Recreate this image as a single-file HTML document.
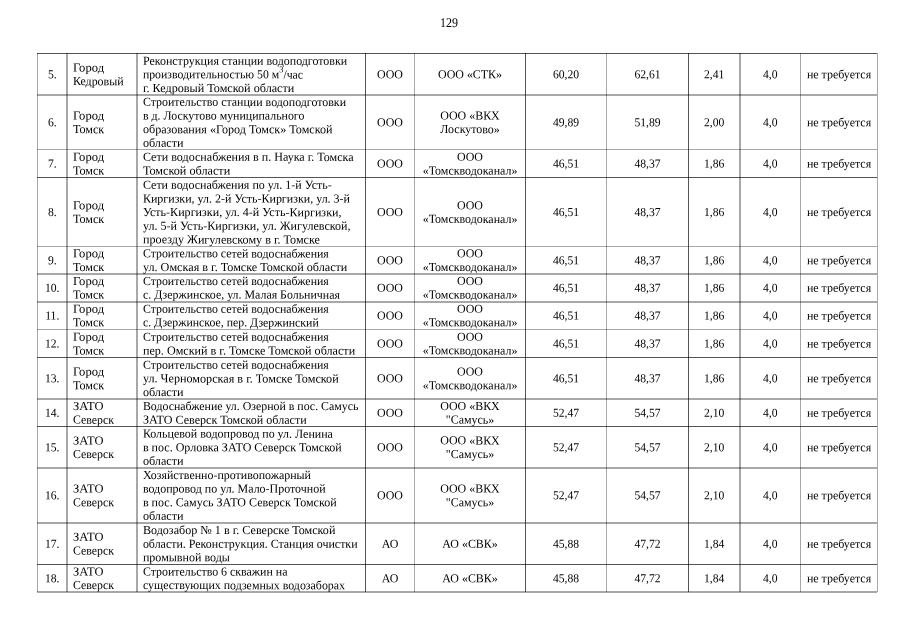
<!DOCTYPE html>
<html lang="ru"><head><meta charset="utf-8"><title>129</title>
<style>
html,body{margin:0;padding:0;background:#fff;}
body{width:905px;height:640px;position:relative;overflow:hidden;}
#pg{position:absolute;left:0;top:0;width:905px;height:640px;will-change:transform;background:#fff;text-rendering:geometricPrecision;font-family:"Liberation Serif","DejaVu Serif",serif;font-size:12.2px;line-height:14px;color:#000;}
svg{position:absolute;left:0;top:0;}
.t{position:absolute;height:14px;white-space:nowrap;transform:translate(var(--x),var(--y)) scaleX(var(--s)) rotate(.03deg);}
.m{text-align:center;transform-origin:50% 50%;}
.l{text-align:left;transform-origin:0 50%;}
sup{font-size:8.6px;line-height:0;vertical-align:baseline;position:relative;top:-5.7px;}
.pn{text-rendering:geometricPrecision;position:absolute;left:419.30px;top:15px;width:60px;height:16px;text-align:center;font-size:13.2px;line-height:16px;transform:scaleX(0.91);transform-origin:50% 50%;}
</style></head><body><div id="pg">
<div class="pn">129</div>
<svg width="905" height="640" viewBox="0 0 905 640" shape-rendering="crispEdges"><g fill="#000">
<rect x="37" y="53" width="1" height="539" fill-opacity="0.34"/>
<rect x="66" y="53" width="2" height="539" fill-opacity="0.34"/>
<rect x="136" y="53" width="2" height="539" fill-opacity="0.34"/>
<rect x="365" y="53" width="1" height="539" fill-opacity="0.67"/>
<rect x="414" y="53" width="1" height="539" fill-opacity="0.34"/>
<rect x="525" y="53" width="1" height="539" fill-opacity="0.67"/>
<rect x="606" y="53" width="1" height="539" fill-opacity="0.34"/>
<rect x="688" y="53" width="1" height="539" fill-opacity="0.67"/>
<rect x="739" y="53" width="2" height="539" fill-opacity="0.34"/>
<rect x="800" y="53" width="1" height="539" fill-opacity="0.34"/>
<rect x="877" y="53" width="1" height="539" fill-opacity="0.34"/>
<rect x="37" y="53" width="840" height="1" fill-opacity="0.67"/>
<rect x="37" y="94" width="840" height="2" fill-opacity="0.34"/>
<rect x="37" y="149" width="840" height="1" fill-opacity="0.34"/>
<rect x="37" y="177" width="840" height="1" fill-opacity="0.67"/>
<rect x="37" y="246" width="840" height="1" fill-opacity="0.34"/>
<rect x="37" y="273" width="840" height="2" fill-opacity="0.34"/>
<rect x="37" y="301" width="840" height="2" fill-opacity="0.34"/>
<rect x="37" y="329" width="840" height="1" fill-opacity="0.34"/>
<rect x="37" y="357" width="840" height="1" fill-opacity="0.67"/>
<rect x="37" y="398" width="840" height="2" fill-opacity="0.34"/>
<rect x="37" y="426" width="840" height="1" fill-opacity="0.67"/>
<rect x="37" y="467" width="840" height="2" fill-opacity="0.34"/>
<rect x="37" y="522" width="840" height="2" fill-opacity="0.34"/>
<rect x="37" y="564" width="840" height="1" fill-opacity="0.67"/>
<rect x="37" y="591" width="840" height="2" fill-opacity="0.34"/>
</g></svg>
<div class="t m" style="left:37px;top:67px;width:29.50px;--x:0.50px;--y:0.30px;--s:0.955">5.</div>
<div class="t l" style="left:72px;top:60px;--x:0.90px;--y:0.47px;--s:1.035">Город</div>
<div class="t l" style="left:72px;top:74px;--x:0.90px;--y:0.12px;--s:0.98">Кедровый</div>
<div class="t l" style="left:142px;top:53px;--x:0.90px;--y:0.65px;--s:0.9814">Реконструкция станции водоподготовки</div>
<div class="t l" style="left:142px;top:67px;--x:0.90px;--y:0.30px;--s:0.9679">производительностью 50 м<sup>3</sup>/час</div>
<div class="t l" style="left:142px;top:80px;--x:0.90px;--y:0.95px;--s:0.9979">г. Кедровый Томской области</div>
<div class="t m" style="left:365px;top:67px;width:49.10px;--x:0.50px;--y:0.30px;--s:0.98">ООО</div>
<div class="t m" style="left:414px;top:67px;width:110.90px;--x:0.60px;--y:0.30px;--s:0.98">ООО «СТК»</div>
<div class="t m" style="left:525px;top:67px;width:81.10px;--x:0.50px;--y:0.30px;--s:0.955">60,20</div>
<div class="t m" style="left:606px;top:67px;width:81.90px;--x:0.60px;--y:0.30px;--s:0.955">62,61</div>
<div class="t m" style="left:688px;top:67px;width:51.40px;--x:0.50px;--y:0.30px;--s:0.955">2,41</div>
<div class="t m" style="left:739px;top:67px;width:60.60px;--x:0.90px;--y:0.30px;--s:0.955">4,0</div>
<div class="t m" style="left:800px;top:67px;width:77.10px;--x:0.50px;--y:0.30px;--s:0.98">не требуется</div>
<div class="t m" style="left:37px;top:115px;width:29.50px;--x:0.50px;--y:0.30px;--s:0.955">6.</div>
<div class="t l" style="left:72px;top:108px;--x:0.90px;--y:0.47px;--s:1.035">Город</div>
<div class="t l" style="left:72px;top:122px;--x:0.90px;--y:0.12px;--s:0.995">Томск</div>
<div class="t l" style="left:142px;top:94px;--x:0.90px;--y:0.82px;--s:0.9776">Строительство станции водоподготовки</div>
<div class="t l" style="left:142px;top:108px;--x:0.90px;--y:0.47px;--s:0.974">в д. Лоскутово муниципального</div>
<div class="t l" style="left:142px;top:122px;--x:0.90px;--y:0.12px;--s:0.9953">образования «Город Томск» Томской</div>
<div class="t l" style="left:142px;top:135px;--x:0.90px;--y:0.78px;--s:0.9988">области</div>
<div class="t m" style="left:365px;top:115px;width:49.10px;--x:0.50px;--y:0.30px;--s:0.98">ООО</div>
<div class="t m" style="left:414px;top:108px;width:110.90px;--x:0.60px;--y:0.47px;--s:0.98">ООО «ВКХ</div>
<div class="t m" style="left:414px;top:122px;width:110.90px;--x:0.60px;--y:0.12px;--s:0.98">Лоскутово»</div>
<div class="t m" style="left:525px;top:115px;width:81.10px;--x:0.50px;--y:0.30px;--s:0.955">49,89</div>
<div class="t m" style="left:606px;top:115px;width:81.90px;--x:0.60px;--y:0.30px;--s:0.955">51,89</div>
<div class="t m" style="left:688px;top:115px;width:51.40px;--x:0.50px;--y:0.30px;--s:0.955">2,00</div>
<div class="t m" style="left:739px;top:115px;width:60.60px;--x:0.90px;--y:0.30px;--s:0.955">4,0</div>
<div class="t m" style="left:800px;top:115px;width:77.10px;--x:0.50px;--y:0.30px;--s:0.98">не требуется</div>
<div class="t m" style="left:37px;top:156px;width:29.50px;--x:0.50px;--y:0.60px;--s:0.955">7.</div>
<div class="t l" style="left:72px;top:149px;--x:0.90px;--y:0.78px;--s:1.035">Город</div>
<div class="t l" style="left:72px;top:163px;--x:0.90px;--y:0.42px;--s:0.995">Томск</div>
<div class="t l" style="left:142px;top:149px;--x:0.90px;--y:0.78px;--s:0.9899">Сети водоснабжения в п. Наука г. Томска</div>
<div class="t l" style="left:142px;top:163px;--x:0.90px;--y:0.42px;--s:1.0008">Томской области</div>
<div class="t m" style="left:365px;top:156px;width:49.10px;--x:0.50px;--y:0.60px;--s:0.98">ООО</div>
<div class="t m" style="left:414px;top:149px;width:110.90px;--x:0.60px;--y:0.78px;--s:0.98">ООО</div>
<div class="t m" style="left:414px;top:163px;width:110.90px;--x:0.60px;--y:0.42px;--s:0.98">«Томскводоканал»</div>
<div class="t m" style="left:525px;top:156px;width:81.10px;--x:0.50px;--y:0.60px;--s:0.955">46,51</div>
<div class="t m" style="left:606px;top:156px;width:81.90px;--x:0.60px;--y:0.60px;--s:0.955">48,37</div>
<div class="t m" style="left:688px;top:156px;width:51.40px;--x:0.50px;--y:0.60px;--s:0.955">1,86</div>
<div class="t m" style="left:739px;top:156px;width:60.60px;--x:0.90px;--y:0.60px;--s:0.955">4,0</div>
<div class="t m" style="left:800px;top:156px;width:77.10px;--x:0.50px;--y:0.60px;--s:0.98">не требуется</div>
<div class="t m" style="left:37px;top:205px;width:29.50px;--x:0.50px;--y:0.05px;--s:0.955">8.</div>
<div class="t l" style="left:72px;top:198px;--x:0.90px;--y:0.22px;--s:1.035">Город</div>
<div class="t l" style="left:72px;top:211px;--x:0.90px;--y:0.87px;--s:0.995">Томск</div>
<div class="t l" style="left:142px;top:177px;--x:0.90px;--y:0.75px;--s:0.9847">Сети водоснабжения по ул. 1-й Усть-</div>
<div class="t l" style="left:142px;top:191px;--x:0.90px;--y:0.40px;--s:0.9833">Киргизки, ул. 2-й Усть-Киргизки, ул. 3-й</div>
<div class="t l" style="left:142px;top:205px;--x:0.90px;--y:0.05px;--s:0.9895">Усть-Киргизки, ул. 4-й Усть-Киргизки,</div>
<div class="t l" style="left:142px;top:218px;--x:0.90px;--y:0.70px;--s:0.9896">ул. 5-й Усть-Киргизки, ул. Жигулевской,</div>
<div class="t l" style="left:142px;top:232px;--x:0.90px;--y:0.35px;--s:0.9947">проезду Жигулевскому в г. Томске</div>
<div class="t m" style="left:365px;top:205px;width:49.10px;--x:0.50px;--y:0.05px;--s:0.98">ООО</div>
<div class="t m" style="left:414px;top:198px;width:110.90px;--x:0.60px;--y:0.22px;--s:0.98">ООО</div>
<div class="t m" style="left:414px;top:211px;width:110.90px;--x:0.60px;--y:0.87px;--s:0.98">«Томскводоканал»</div>
<div class="t m" style="left:525px;top:205px;width:81.10px;--x:0.50px;--y:0.05px;--s:0.955">46,51</div>
<div class="t m" style="left:606px;top:205px;width:81.90px;--x:0.60px;--y:0.05px;--s:0.955">48,37</div>
<div class="t m" style="left:688px;top:205px;width:51.40px;--x:0.50px;--y:0.05px;--s:0.955">1,86</div>
<div class="t m" style="left:739px;top:205px;width:60.60px;--x:0.90px;--y:0.05px;--s:0.955">4,0</div>
<div class="t m" style="left:800px;top:205px;width:77.10px;--x:0.50px;--y:0.05px;--s:0.98">не требуется</div>
<div class="t m" style="left:37px;top:253px;width:29.50px;--x:0.50px;--y:0.15px;--s:0.955">9.</div>
<div class="t l" style="left:72px;top:246px;--x:0.90px;--y:0.33px;--s:1.035">Город</div>
<div class="t l" style="left:72px;top:259px;--x:0.90px;--y:0.98px;--s:0.995">Томск</div>
<div class="t l" style="left:142px;top:246px;--x:0.90px;--y:0.33px;--s:0.9737">Строительство сетей водоснабжения</div>
<div class="t l" style="left:142px;top:259px;--x:0.90px;--y:0.98px;--s:0.9986">ул. Омская в г. Томске Томской области</div>
<div class="t m" style="left:365px;top:253px;width:49.10px;--x:0.50px;--y:0.15px;--s:0.98">ООО</div>
<div class="t m" style="left:414px;top:246px;width:110.90px;--x:0.60px;--y:0.33px;--s:0.98">ООО</div>
<div class="t m" style="left:414px;top:259px;width:110.90px;--x:0.60px;--y:0.98px;--s:0.98">«Томскводоканал»</div>
<div class="t m" style="left:525px;top:253px;width:81.10px;--x:0.50px;--y:0.15px;--s:0.955">46,51</div>
<div class="t m" style="left:606px;top:253px;width:81.90px;--x:0.60px;--y:0.15px;--s:0.955">48,37</div>
<div class="t m" style="left:688px;top:253px;width:51.40px;--x:0.50px;--y:0.15px;--s:0.955">1,86</div>
<div class="t m" style="left:739px;top:253px;width:60.60px;--x:0.90px;--y:0.15px;--s:0.955">4,0</div>
<div class="t m" style="left:800px;top:253px;width:77.10px;--x:0.50px;--y:0.15px;--s:0.98">не требуется</div>
<div class="t m" style="left:37px;top:280px;width:29.50px;--x:0.50px;--y:0.70px;--s:0.955">10.</div>
<div class="t l" style="left:72px;top:273px;--x:0.90px;--y:0.88px;--s:1.035">Город</div>
<div class="t l" style="left:72px;top:287px;--x:0.90px;--y:0.53px;--s:0.995">Томск</div>
<div class="t l" style="left:142px;top:273px;--x:0.90px;--y:0.88px;--s:0.9737">Строительство сетей водоснабжения</div>
<div class="t l" style="left:142px;top:287px;--x:0.90px;--y:0.53px;--s:0.976">с. Дзержинское, ул. Малая Больничная</div>
<div class="t m" style="left:365px;top:280px;width:49.10px;--x:0.50px;--y:0.70px;--s:0.98">ООО</div>
<div class="t m" style="left:414px;top:273px;width:110.90px;--x:0.60px;--y:0.88px;--s:0.98">ООО</div>
<div class="t m" style="left:414px;top:287px;width:110.90px;--x:0.60px;--y:0.53px;--s:0.98">«Томскводоканал»</div>
<div class="t m" style="left:525px;top:280px;width:81.10px;--x:0.50px;--y:0.70px;--s:0.955">46,51</div>
<div class="t m" style="left:606px;top:280px;width:81.90px;--x:0.60px;--y:0.70px;--s:0.955">48,37</div>
<div class="t m" style="left:688px;top:280px;width:51.40px;--x:0.50px;--y:0.70px;--s:0.955">1,86</div>
<div class="t m" style="left:739px;top:280px;width:60.60px;--x:0.90px;--y:0.70px;--s:0.955">4,0</div>
<div class="t m" style="left:800px;top:280px;width:77.10px;--x:0.50px;--y:0.70px;--s:0.98">не требуется</div>
<div class="t m" style="left:37px;top:308px;width:29.50px;--x:0.50px;--y:0.50px;--s:0.955">11.</div>
<div class="t l" style="left:72px;top:301px;--x:0.90px;--y:0.68px;--s:1.035">Город</div>
<div class="t l" style="left:72px;top:315px;--x:0.90px;--y:0.32px;--s:0.995">Томск</div>
<div class="t l" style="left:142px;top:301px;--x:0.90px;--y:0.68px;--s:0.9737">Строительство сетей водоснабжения</div>
<div class="t l" style="left:142px;top:315px;--x:0.90px;--y:0.32px;--s:0.97">с. Дзержинское, пер. Дзержинский</div>
<div class="t m" style="left:365px;top:308px;width:49.10px;--x:0.50px;--y:0.50px;--s:0.98">ООО</div>
<div class="t m" style="left:414px;top:301px;width:110.90px;--x:0.60px;--y:0.68px;--s:0.98">ООО</div>
<div class="t m" style="left:414px;top:315px;width:110.90px;--x:0.60px;--y:0.32px;--s:0.98">«Томскводоканал»</div>
<div class="t m" style="left:525px;top:308px;width:81.10px;--x:0.50px;--y:0.50px;--s:0.955">46,51</div>
<div class="t m" style="left:606px;top:308px;width:81.90px;--x:0.60px;--y:0.50px;--s:0.955">48,37</div>
<div class="t m" style="left:688px;top:308px;width:51.40px;--x:0.50px;--y:0.50px;--s:0.955">1,86</div>
<div class="t m" style="left:739px;top:308px;width:60.60px;--x:0.90px;--y:0.50px;--s:0.955">4,0</div>
<div class="t m" style="left:800px;top:308px;width:77.10px;--x:0.50px;--y:0.50px;--s:0.98">не требуется</div>
<div class="t m" style="left:37px;top:336px;width:29.50px;--x:0.50px;--y:0.55px;--s:0.955">12.</div>
<div class="t l" style="left:72px;top:329px;--x:0.90px;--y:0.73px;--s:1.035">Город</div>
<div class="t l" style="left:72px;top:343px;--x:0.90px;--y:0.38px;--s:0.995">Томск</div>
<div class="t l" style="left:142px;top:329px;--x:0.90px;--y:0.73px;--s:0.9737">Строительство сетей водоснабжения</div>
<div class="t l" style="left:142px;top:343px;--x:0.90px;--y:0.38px;--s:0.9946">пер. Омский в г. Томске Томской области</div>
<div class="t m" style="left:365px;top:336px;width:49.10px;--x:0.50px;--y:0.55px;--s:0.98">ООО</div>
<div class="t m" style="left:414px;top:329px;width:110.90px;--x:0.60px;--y:0.73px;--s:0.98">ООО</div>
<div class="t m" style="left:414px;top:343px;width:110.90px;--x:0.60px;--y:0.38px;--s:0.98">«Томскводоканал»</div>
<div class="t m" style="left:525px;top:336px;width:81.10px;--x:0.50px;--y:0.55px;--s:0.955">46,51</div>
<div class="t m" style="left:606px;top:336px;width:81.90px;--x:0.60px;--y:0.55px;--s:0.955">48,37</div>
<div class="t m" style="left:688px;top:336px;width:51.40px;--x:0.50px;--y:0.55px;--s:0.955">1,86</div>
<div class="t m" style="left:739px;top:336px;width:60.60px;--x:0.90px;--y:0.55px;--s:0.955">4,0</div>
<div class="t m" style="left:800px;top:336px;width:77.10px;--x:0.50px;--y:0.55px;--s:0.98">не требуется</div>
<div class="t m" style="left:37px;top:371px;width:29.50px;--x:0.50px;--y:0.35px;--s:0.955">13.</div>
<div class="t l" style="left:72px;top:364px;--x:0.90px;--y:0.53px;--s:1.035">Город</div>
<div class="t l" style="left:72px;top:378px;--x:0.90px;--y:0.18px;--s:0.995">Томск</div>
<div class="t l" style="left:142px;top:357px;--x:0.90px;--y:0.70px;--s:0.9737">Строительство сетей водоснабжения</div>
<div class="t l" style="left:142px;top:371px;--x:0.90px;--y:0.35px;--s:0.9979">ул. Черноморская в г. Томске Томской</div>
<div class="t l" style="left:142px;top:385px;--x:0.90px;--y:0.00px;--s:0.9988">области</div>
<div class="t m" style="left:365px;top:371px;width:49.10px;--x:0.50px;--y:0.35px;--s:0.98">ООО</div>
<div class="t m" style="left:414px;top:364px;width:110.90px;--x:0.60px;--y:0.53px;--s:0.98">ООО</div>
<div class="t m" style="left:414px;top:378px;width:110.90px;--x:0.60px;--y:0.18px;--s:0.98">«Томскводоканал»</div>
<div class="t m" style="left:525px;top:371px;width:81.10px;--x:0.50px;--y:0.35px;--s:0.955">46,51</div>
<div class="t m" style="left:606px;top:371px;width:81.90px;--x:0.60px;--y:0.35px;--s:0.955">48,37</div>
<div class="t m" style="left:688px;top:371px;width:51.40px;--x:0.50px;--y:0.35px;--s:0.955">1,86</div>
<div class="t m" style="left:739px;top:371px;width:60.60px;--x:0.90px;--y:0.35px;--s:0.955">4,0</div>
<div class="t m" style="left:800px;top:371px;width:77.10px;--x:0.50px;--y:0.35px;--s:0.98">не требуется</div>
<div class="t m" style="left:37px;top:405px;width:29.50px;--x:0.50px;--y:0.80px;--s:0.955">14.</div>
<div class="t l" style="left:72px;top:398px;--x:0.90px;--y:0.98px;--s:1.022">ЗАТО</div>
<div class="t l" style="left:72px;top:412px;--x:0.90px;--y:0.62px;--s:0.971">Северск</div>
<div class="t l" style="left:142px;top:398px;--x:0.90px;--y:0.98px;--s:0.9728">Водоснабжение ул. Озерной в пос. Самусь</div>
<div class="t l" style="left:142px;top:412px;--x:0.90px;--y:0.62px;--s:0.9897">ЗАТО Северск Томской области</div>
<div class="t m" style="left:365px;top:405px;width:49.10px;--x:0.50px;--y:0.80px;--s:0.98">ООО</div>
<div class="t m" style="left:414px;top:398px;width:110.90px;--x:0.60px;--y:0.98px;--s:0.98">ООО «ВКХ</div>
<div class="t m" style="left:414px;top:412px;width:110.90px;--x:0.60px;--y:0.62px;--s:0.98">"Самусь»</div>
<div class="t m" style="left:525px;top:405px;width:81.10px;--x:0.50px;--y:0.80px;--s:0.955">52,47</div>
<div class="t m" style="left:606px;top:405px;width:81.90px;--x:0.60px;--y:0.80px;--s:0.955">54,57</div>
<div class="t m" style="left:688px;top:405px;width:51.40px;--x:0.50px;--y:0.80px;--s:0.955">2,10</div>
<div class="t m" style="left:739px;top:405px;width:60.60px;--x:0.90px;--y:0.80px;--s:0.955">4,0</div>
<div class="t m" style="left:800px;top:405px;width:77.10px;--x:0.50px;--y:0.80px;--s:0.98">не требуется</div>
<div class="t m" style="left:37px;top:440px;width:29.50px;--x:0.50px;--y:0.20px;--s:0.955">15.</div>
<div class="t l" style="left:72px;top:433px;--x:0.90px;--y:0.38px;--s:1.022">ЗАТО</div>
<div class="t l" style="left:72px;top:447px;--x:0.90px;--y:0.03px;--s:0.971">Северск</div>
<div class="t l" style="left:142px;top:426px;--x:0.90px;--y:0.55px;--s:0.9826">Кольцевой водопровод по ул. Ленина</div>
<div class="t l" style="left:142px;top:440px;--x:0.90px;--y:0.20px;--s:0.986">в пос. Орловка ЗАТО Северск Томской</div>
<div class="t l" style="left:142px;top:453px;--x:0.90px;--y:0.85px;--s:0.9988">области</div>
<div class="t m" style="left:365px;top:440px;width:49.10px;--x:0.50px;--y:0.20px;--s:0.98">ООО</div>
<div class="t m" style="left:414px;top:433px;width:110.90px;--x:0.60px;--y:0.38px;--s:0.98">ООО «ВКХ</div>
<div class="t m" style="left:414px;top:447px;width:110.90px;--x:0.60px;--y:0.03px;--s:0.98">"Самусь»</div>
<div class="t m" style="left:525px;top:440px;width:81.10px;--x:0.50px;--y:0.20px;--s:0.955">52,47</div>
<div class="t m" style="left:606px;top:440px;width:81.90px;--x:0.60px;--y:0.20px;--s:0.955">54,57</div>
<div class="t m" style="left:688px;top:440px;width:51.40px;--x:0.50px;--y:0.20px;--s:0.955">2,10</div>
<div class="t m" style="left:739px;top:440px;width:60.60px;--x:0.90px;--y:0.20px;--s:0.955">4,0</div>
<div class="t m" style="left:800px;top:440px;width:77.10px;--x:0.50px;--y:0.20px;--s:0.98">не требуется</div>
<div class="t m" style="left:37px;top:488px;width:29.50px;--x:0.50px;--y:0.35px;--s:0.955">16.</div>
<div class="t l" style="left:72px;top:481px;--x:0.90px;--y:0.53px;--s:1.022">ЗАТО</div>
<div class="t l" style="left:72px;top:495px;--x:0.90px;--y:0.18px;--s:0.971">Северск</div>
<div class="t l" style="left:142px;top:467px;--x:0.90px;--y:0.88px;--s:0.9788">Хозяйственно-противопожарный</div>
<div class="t l" style="left:142px;top:481px;--x:0.90px;--y:0.53px;--s:0.9816">водопровод по ул. Мало-Проточной</div>
<div class="t l" style="left:142px;top:495px;--x:0.90px;--y:0.18px;--s:0.9872">в пос. Самусь ЗАТО Северск Томской</div>
<div class="t l" style="left:142px;top:508px;--x:0.90px;--y:0.83px;--s:0.9988">области</div>
<div class="t m" style="left:365px;top:488px;width:49.10px;--x:0.50px;--y:0.35px;--s:0.98">ООО</div>
<div class="t m" style="left:414px;top:481px;width:110.90px;--x:0.60px;--y:0.53px;--s:0.98">ООО «ВКХ</div>
<div class="t m" style="left:414px;top:495px;width:110.90px;--x:0.60px;--y:0.18px;--s:0.98">"Самусь»</div>
<div class="t m" style="left:525px;top:488px;width:81.10px;--x:0.50px;--y:0.35px;--s:0.955">52,47</div>
<div class="t m" style="left:606px;top:488px;width:81.90px;--x:0.60px;--y:0.35px;--s:0.955">54,57</div>
<div class="t m" style="left:688px;top:488px;width:51.40px;--x:0.50px;--y:0.35px;--s:0.955">2,10</div>
<div class="t m" style="left:739px;top:488px;width:60.60px;--x:0.90px;--y:0.35px;--s:0.955">4,0</div>
<div class="t m" style="left:800px;top:488px;width:77.10px;--x:0.50px;--y:0.35px;--s:0.98">не требуется</div>
<div class="t m" style="left:37px;top:536px;width:29.50px;--x:0.50px;--y:0.65px;--s:0.955">17.</div>
<div class="t l" style="left:72px;top:529px;--x:0.90px;--y:0.82px;--s:1.022">ЗАТО</div>
<div class="t l" style="left:72px;top:543px;--x:0.90px;--y:0.48px;--s:0.971">Северск</div>
<div class="t l" style="left:142px;top:523px;--x:0.90px;--y:0.00px;--s:0.9924">Водозабор № 1 в г. Северске Томской</div>
<div class="t l" style="left:142px;top:536px;--x:0.90px;--y:0.65px;--s:0.98">области. Реконструкция. Станция очистки</div>
<div class="t l" style="left:142px;top:550px;--x:0.90px;--y:0.30px;--s:0.988">промывной воды</div>
<div class="t m" style="left:365px;top:536px;width:49.10px;--x:0.50px;--y:0.65px;--s:0.98">АО</div>
<div class="t m" style="left:414px;top:536px;width:110.90px;--x:0.60px;--y:0.65px;--s:0.98">АО «СВК»</div>
<div class="t m" style="left:525px;top:536px;width:81.10px;--x:0.50px;--y:0.65px;--s:0.955">45,88</div>
<div class="t m" style="left:606px;top:536px;width:81.90px;--x:0.60px;--y:0.65px;--s:0.955">47,72</div>
<div class="t m" style="left:688px;top:536px;width:51.40px;--x:0.50px;--y:0.65px;--s:0.955">1,84</div>
<div class="t m" style="left:739px;top:536px;width:60.60px;--x:0.90px;--y:0.65px;--s:0.955">4,0</div>
<div class="t m" style="left:800px;top:536px;width:77.10px;--x:0.50px;--y:0.65px;--s:0.98">не требуется</div>
<div class="t m" style="left:37px;top:571px;width:29.50px;--x:0.50px;--y:0.25px;--s:0.955">18.</div>
<div class="t l" style="left:72px;top:564px;--x:0.90px;--y:0.42px;--s:1.022">ЗАТО</div>
<div class="t l" style="left:72px;top:578px;--x:0.90px;--y:0.08px;--s:0.971">Северск</div>
<div class="t l" style="left:142px;top:564px;--x:0.90px;--y:0.42px;--s:0.9766">Строительство 6 скважин на</div>
<div class="t l" style="left:142px;top:578px;--x:0.90px;--y:0.08px;--s:0.9766">существующих подземных водозаборах</div>
<div class="t m" style="left:365px;top:571px;width:49.10px;--x:0.50px;--y:0.25px;--s:0.98">АО</div>
<div class="t m" style="left:414px;top:571px;width:110.90px;--x:0.60px;--y:0.25px;--s:0.98">АО «СВК»</div>
<div class="t m" style="left:525px;top:571px;width:81.10px;--x:0.50px;--y:0.25px;--s:0.955">45,88</div>
<div class="t m" style="left:606px;top:571px;width:81.90px;--x:0.60px;--y:0.25px;--s:0.955">47,72</div>
<div class="t m" style="left:688px;top:571px;width:51.40px;--x:0.50px;--y:0.25px;--s:0.955">1,84</div>
<div class="t m" style="left:739px;top:571px;width:60.60px;--x:0.90px;--y:0.25px;--s:0.955">4,0</div>
<div class="t m" style="left:800px;top:571px;width:77.10px;--x:0.50px;--y:0.25px;--s:0.98">не требуется</div>
</div></body></html>
